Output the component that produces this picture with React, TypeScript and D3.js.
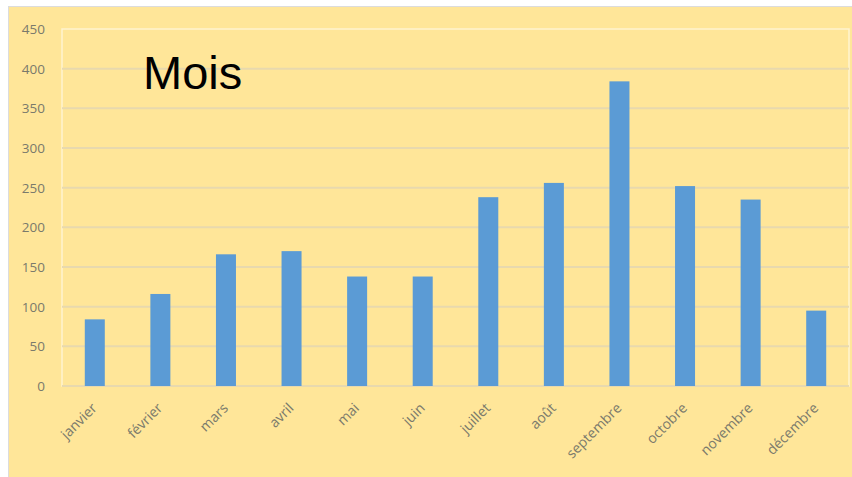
import React, { useEffect, useRef } from 'react';
import * as d3 from 'd3';

const months = ['janvier', 'février', 'mars', 'avril', 'mai', 'juin', 'juillet', 'août', 'septembre', 'octobre', 'novembre', 'décembre'];
const values = [84, 116, 166, 170, 138, 138, 238, 256, 384, 252, 235, 95];
const yTicks = [0, 50, 100, 150, 200, 250, 300, 350, 400, 450];
const title = 'Mois';

const W = 852;
const H = 477;
const PLOT = { left: 62, right: 849, top: 29, bottom: 386 };

const App = () => {
    const svgRef = useRef<SVGSVGElement>(null);

    useEffect(() => {
        document.body.style.margin = '0';

        const x = d3.scaleBand<string>()
            .domain(months)
            .range([PLOT.left, PLOT.right])
            .paddingInner(0.695)
            .paddingOuter(0.3475);

        const y = d3.scaleLinear()
            .domain([0, 450])
            .range([PLOT.bottom, PLOT.top]);

        const svg = d3.select(svgRef.current);
        svg.selectAll('*').remove();

        // chart frame
        svg.append('rect')
            .attr('x', 8.5).attr('y', 6.5)
            .attr('width', W).attr('height', H)
            .attr('fill', '#ffe699')
            .attr('stroke', '#dcdcdc');

        // plot area border
        svg.append('rect')
            .attr('x', PLOT.left).attr('y', PLOT.top)
            .attr('width', PLOT.right - PLOT.left).attr('height', PLOT.bottom - PLOT.top)
            .attr('fill', 'none')
            .attr('stroke', '#fff4d0')
            .attr('stroke-width', 1.5);

        // gridlines
        svg.append('g')
            .selectAll('line')
            .data(yTicks.filter(t => t < 450))
            .join('line')
            .attr('x1', PLOT.left).attr('x2', PLOT.right)
            .attr('y1', d => y(d)).attr('y2', d => y(d))
            .attr('stroke', '#e8d9ae')
            .attr('stroke-width', 2);

        // y labels
        svg.append('g')
            .selectAll('text')
            .data(yTicks)
            .join('text')
            .attr('x', 45)
            .attr('y', d => y(d))
            .attr('dy', '0.36em')
            .attr('text-anchor', 'end')
            .attr('font-family', 'Open Sans, sans-serif')
            .attr('font-size', 13.5)
            .attr('fill', '#7a7a6c')
            .text(d => d);

        // bars
        svg.append('g')
            .selectAll('rect')
            .data(values)
            .join('rect')
            .attr('x', (_, i) => x(months[i]) as number)
            .attr('width', x.bandwidth())
            .attr('y', d => y(d))
            .attr('height', d => y(0) - y(d))
            .attr('fill', '#5b9bd5');

        // x labels, rotated 45°
        svg.append('g')
            .selectAll('text')
            .data(months)
            .join('text')
            .attr('transform', d => `translate(${(x(d) as number) + x.bandwidth() / 2 + 3},${PLOT.bottom + 23}) rotate(-45)`)
            .attr('text-anchor', 'end')
            .attr('font-family', 'Open Sans, sans-serif')
            .attr('font-size', 14)
            .attr('fill', '#7a7a6c')
            .text(d => d);

        // title
        svg.append('text')
            .attr('x', 143)
            .attr('y', 89)
            .attr('font-family', 'Liberation Sans, Arial, sans-serif')
            .attr('font-size', 47)
            .attr('fill', '#000')
            .text(title);
    }, []);

    return <svg ref={svgRef} width={W} height={H} style={{ display: 'block' }} />;
};

export default App;
